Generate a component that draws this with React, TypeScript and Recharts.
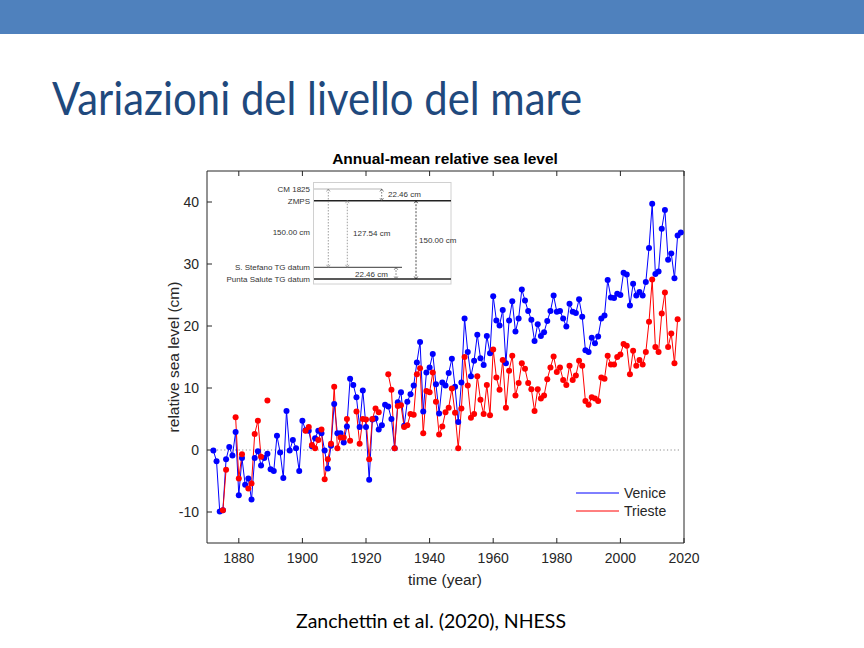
import React from 'react';
import { LineChart, Line, XAxis, YAxis, ReferenceLine, Legend } from 'recharts';

const years = [
  1872, 1873, 1874, 1875, 1876, 1877, 1878, 1879,
  1880, 1881, 1882, 1883, 1884, 1885, 1886, 1887, 1888, 1889,
  1890, 1891, 1892, 1893, 1894, 1895, 1896, 1897, 1898, 1899,
  1900, 1901, 1902, 1903, 1904, 1905, 1906, 1907, 1908, 1909,
  1910, 1911, 1912, 1913, 1914, 1915, 1916, 1917, 1918, 1919,
  1920, 1921, 1922, 1923, 1924, 1925, 1926, 1927, 1928, 1929,
  1930, 1931, 1932, 1933, 1934, 1935, 1936, 1937, 1938, 1939,
  1940, 1941, 1942, 1943, 1944, 1945, 1946, 1947, 1948, 1949,
  1950, 1951, 1952, 1953, 1954, 1955, 1956, 1957, 1958, 1959,
  1960, 1961, 1962, 1963, 1964, 1965, 1966, 1967, 1968, 1969,
  1970, 1971, 1972, 1973, 1974, 1975, 1976, 1977, 1978, 1979,
  1980, 1981, 1982, 1983, 1984, 1985, 1986, 1987, 1988, 1989,
  1990, 1991, 1992, 1993, 1994, 1995, 1996, 1997, 1998, 1999,
  2000, 2001, 2002, 2003, 2004, 2005, 2006, 2007, 2008, 2009,
  2010, 2011, 2012, 2013, 2014, 2015, 2016, 2017, 2018, 2019,
];

const venice = [
  -0.1, -1.8, -9.9, -9.7, -1.5, 0.5, -0.9, 2.9,
  -7.3, -1.3, -5.6, -4.6, -8.0, -1.3, -0.2, -2.5, -1.3, -0.6,
  -3.1, -3.4, 2.3, -0.4, -4.5, 6.3, -0.1, 1.6, 0.3, -3.4,
  4.7, 3.2, 3.1, 0.6, 1.9, 3.1, 2.7, -0.1, -3.0, 0.7,
  7.4, 2.7, 2.7, 1.2, 3.8, 11.5, 10.5, 8.5, 3.7, 9.6,
  3.7, -4.8, 4.9, 5.1, 3.3, 4.0, 7.3, 7.0, 5.0, 0.3,
  7.7, 9.3, 3.9, 7.8, 9.0, 10.4, 14.1, 17.4, 6.2, 12.5,
  13.3, 15.5, 10.6, 5.9, 10.9, 10.4, 12.4, 14.7, 10.2, 4.5,
  10.9, 21.2, 15.8, 11.9, 14.4, 18.6, 14.8, 13.7, 18.4, 15.6,
  24.8, 20.9, 20.1, 22.6, 14.0, 20.9, 24.0, 19.1, 21.2, 25.9,
  24.1, 22.4, 21.0, 17.6, 20.3, 18.4, 19.0, 20.8, 22.4, 24.9,
  22.3, 22.4, 21.2, 19.9, 23.6, 22.3, 22.1, 24.3, 21.5, 16.1,
  15.8, 18.1, 17.2, 18.3, 21.2, 21.7, 27.4, 24.6, 24.5, 25.2,
  25.0, 28.6, 28.3, 23.3, 26.8, 24.9, 25.5, 24.9, 27.1, 32.6,
  39.7, 28.4, 28.8, 35.7, 38.7, 30.7, 31.7, 27.7, 34.6, 35.1,
];

const trieste = [
  null, null, null, -9.7, -3.2, null, null, 5.3,
  -4.6, -0.7, null, -6.2, -5.4, 2.6, 4.7, -1.1, null, 8.0,
  null, null, null, null, null, null, null, null, null, null,
  null, 3.1, 3.7, 0.8, 0.3, 1.6, 3.3, -4.7, -1.5, 1.0,
  10.2, 0.3, 2.0, 2.0, 5.0, 1.5, null, 6.2, 1.0, 5.0,
  4.9, -1.5, 5.0, 6.7, 6.1, null, null, 12.2, 9.7, 0.3,
  7.1, 7.2, 3.7, 4.0, 5.8, 5.7, 12.2, 13.2, 2.7, 9.5,
  9.3, 12.5, 7.8, 2.5, 3.8, 6.1, 6.8, 9.9, 6.0, 0.3,
  6.7, 15.0, 10.4, 5.2, 5.8, 11.9, 8.1, 5.8, 10.5, 5.6,
  16.2, 11.7, 9.7, 14.5, 6.8, 12.8, 15.2, 8.8, 10.8, 14.0,
  13.1, 10.8, 9.8, 6.3, 9.8, 8.3, 8.8, 11.4, 13.3, 15.1,
  12.6, 13.3, 11.3, 10.5, 13.6, 11.3, 12.0, 14.4, 13.6, 7.9,
  7.3, 8.5, 8.3, 7.9, 11.7, 11.5, 15.2, 13.8, 13.8, 15.0,
  15.4, 17.1, 16.8, 12.2, 16.0, 13.6, 14.5, 13.8, 15.8, 20.7,
  27.5, 16.6, 15.8, 22.0, 25.4, 16.6, 18.8, 14.0, 21.1, null,
];

const xTicks = [1880, 1900, 1920, 1940, 1960, 1980, 2000, 2020];
const yTicks = [-10, 0, 10, 20, 30, 40];
const seriesNames = ['Venice', 'Trieste'];
const seriesColors = ['#0000ff', '#ff0000'];

const data = years.map((y, i) => ({ year: y, venice: venice[i], trieste: trieste[i] }));

const AXIS = '#262626';
const FONT = '"Liberation Sans", Arial, Helvetica, sans-serif';

const renderLegend = (props: any) => {
  const payload = [...(props.payload || [])].sort(
    (a: any, b: any) => seriesNames.indexOf(a.value) - seriesNames.indexOf(b.value)
  );
  return (
    <svg width={110} height={40} style={{ display: 'block' }}>
      {payload.map((p: any, i: number) => (
        <g key={i}>
          <line x1={6} x2={49} y1={11 + i * 18} y2={11 + i * 18} stroke={p.color} strokeWidth={1} />
          <text x={54} y={11 + i * 18 + 5} fontSize={14} fontFamily={FONT} fill={AXIS}>{p.value}</text>
        </g>
      ))}
    </svg>
  );
};

const Chevron = ({ x, y, up, color }: { x: number; y: number; up: boolean; color: string }) => (
  <polyline
    points={up ? `${x - 1.8},${y + 2.5} ${x},${y} ${x + 1.8},${y + 2.5}` : `${x - 1.8},${y - 2.5} ${x},${y} ${x + 1.8},${y - 2.5}`}
    fill="none"
    stroke={color}
    strokeWidth={0.7}
  />
);

const Arrow = ({ x, y1, y2, color, dash }: { x: number; y1: number; y2: number; color: string; dash: string }) => (
  <g>
    <line x1={x} x2={x} y1={y1} y2={y2} stroke={color} strokeWidth={0.8} strokeDasharray={dash} />
    <Chevron x={x} y={y1} up color={color} />
    <Chevron x={x} y={y2} up={false} color={color} />
  </g>
);

const Inset = () => {
  const lab = { fontSize: 8, fontFamily: FONT, fill: '#333' } as const;
  return (
    <g>
      <rect x={313.5} y={182.5} width={137.5} height={101.5} fill="#fff" stroke="#d0d0d0" strokeWidth={1} />
      <line x1={314} x2={382} y1={189} y2={189} stroke="#999" strokeWidth={0.7} />
      <line x1={314} x2={451} y1={200.7} y2={200.7} stroke="#222" strokeWidth={1.6} />
      <line x1={314} x2={402} y1={267.3} y2={267.3} stroke="#222" strokeWidth={0.9} />
      <line x1={314} x2={451} y1={279} y2={279} stroke="#222" strokeWidth={1.6} />
      <text x={310} y={191.5} textAnchor="end" {...lab}>CM 1825</text>
      <text x={310} y={203.5} textAnchor="end" {...lab}>ZMPS</text>
      <text x={310} y={270} textAnchor="end" {...lab}>S. Stefano TG datum</text>
      <text x={310} y={282} textAnchor="end" {...lab}>Punta Salute TG datum</text>
      <Arrow x={328.3} y1={189} y2={267.3} color="#888" dash="1.5 1.5" />
      <Arrow x={347.3} y1={200.7} y2={267.3} color="#888" dash="1.5 1.5" />
      <Arrow x={381.7} y1={189} y2={200.7} color="#555" dash="1.5 1.5" />
      <Arrow x={396} y1={267.3} y2={279} color="#555" dash="1.5 1.5" />
      <Arrow x={416} y1={200.7} y2={279} color="#222" dash="2 1.5" />
      <text x={310} y={234.5} textAnchor="end" {...lab}>150.00 cm</text>
      <text x={353} y={236} {...lab}>127.54 cm</text>
      <text x={388} y={196.5} {...lab}>22.46 cm</text>
      <text x={355} y={276.5} {...lab}>22.46 cm</text>
      <text x={419} y={242.5} {...lab}>150.00 cm</text>
    </g>
  );
};

export default function App() {
  return (
    <div style={{ position: 'absolute', left: 0, top: 0, width: 864, height: 648, background: '#fff', overflow: 'hidden' }}>
      <div style={{ position: 'absolute', left: 0, top: 0, width: 864, height: 34, background: '#4f81bd' }} />
      <div style={{ position: 'absolute', left: 0, top: 0 }}>
        <LineChart
          width={864}
          height={648}
          data={data}
          margin={{ top: 170, right: 179, bottom: 65, left: 147 }}
        >
          <XAxis
            xAxisId="b"
            dataKey="year"
            type="number"
            domain={[1870, 2020]}
            ticks={xTicks}
            tickSize={-5}
            tickMargin={15}
            height={40}
            stroke={AXIS}
            tick={{ fill: AXIS, fontSize: 14, fontFamily: FONT }}
          />
          <XAxis
            xAxisId="t"
            orientation="top"
            dataKey="year"
            type="number"
            domain={[1870, 2020]}
            ticks={xTicks}
            tickSize={-5}
            height={1}
            stroke={AXIS}
            tick={() => <g />}
          />
          <YAxis
            yAxisId="l"
            type="number"
            domain={[-15, 45]}
            ticks={yTicks}
            tickSize={-5}
            tickMargin={13}
            width={60}
            stroke={AXIS}
            tick={{ fill: AXIS, fontSize: 14, fontFamily: FONT }}
          />
          <YAxis
            yAxisId="r"
            orientation="right"
            type="number"
            domain={[-15, 45]}
            ticks={yTicks}
            tickSize={-5}
            width={1}
            stroke={AXIS}
            tick={() => <g />}
          />
          <ReferenceLine
            xAxisId="b"
            yAxisId="l"
            segment={[{ x: 1872, y: 0 }, { x: 2019, y: 0 }]}
            stroke="#8c8c8c"
            strokeDasharray="1.2 2.4"
            strokeWidth={1}
          />
          <Line
            xAxisId="b"
            yAxisId="l"
            dataKey="venice"
            name={seriesNames[0]}
            stroke={seriesColors[0]}
            strokeWidth={1}
            dot={{ r: 3, fill: seriesColors[0], stroke: 'none' }}
            activeDot={false}
            connectNulls
            isAnimationActive={false}
          />
          <Line
            xAxisId="b"
            yAxisId="l"
            dataKey="trieste"
            name={seriesNames[1]}
            stroke={seriesColors[1]}
            strokeWidth={1}
            dot={{ r: 3, fill: seriesColors[1], stroke: 'none' }}
            activeDot={false}
            isAnimationActive={false}
          />
          <Legend
            layout="vertical"
            align="center"
            verticalAlign="middle"
            content={renderLegend}
            wrapperStyle={{ left: 570, top: 482, width: 110, height: 40 }}
          />
        </LineChart>
      </div>
      <svg width={864} height={648} style={{ position: 'absolute', left: 0, top: 0, pointerEvents: 'none' }}>
        <text x={52} y={115} fontFamily='Lato, "Open Sans", sans-serif' fontWeight={400} fontSize={46} fill="#1f497d" textLength={530} lengthAdjust="spacingAndGlyphs">
          Variazioni del livello del mare
        </text>
        <text x={445} y={164} textAnchor="middle" fontFamily={FONT} fontWeight="bold" fontSize={15.5} fill="#000">
          Annual-mean relative sea level
        </text>
        <text x={179} y={357} textAnchor="middle" fontFamily={FONT} fontSize={15.5} fill={AXIS} transform="rotate(-90 179 357)">
          relative sea level (cm)
        </text>
        <text x={445} y={585} textAnchor="middle" fontFamily={FONT} fontSize={15.5} fill={AXIS}>
          time (year)
        </text>
        <Inset />
        <text x={431} y={628} textAnchor="middle" fontFamily='Lato, "Open Sans", sans-serif' fontSize={19} fill="#000" textLength={270} lengthAdjust="spacingAndGlyphs">
          Zanchettin et al. (2020), NHESS
        </text>
      </svg>
    </div>
  );
}
